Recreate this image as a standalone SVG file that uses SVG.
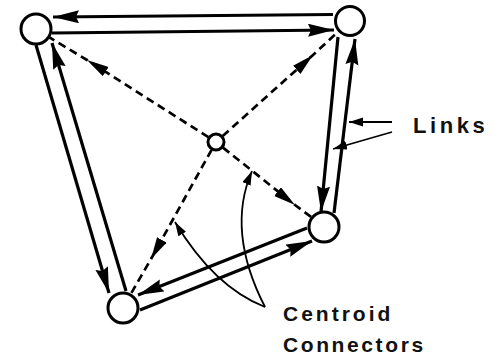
<svg xmlns="http://www.w3.org/2000/svg" width="492" height="355" viewBox="0 0 492 355">
  <style>
    .node { fill: #fff; stroke: #000; stroke-width: 3; }
    .link { fill: none; stroke: #000; stroke-width: 3.2; marker-end: url(#bigArrow); }
    .cc { fill: none; stroke: #000; stroke-width: 2.7; stroke-dasharray: 8 5; marker-mid: url(#midArrow); }
    .callout { fill: none; stroke: #000; stroke-width: 1.8; marker-end: url(#smallArrow); }
    .label { font-family: "Liberation Sans", Arial, sans-serif; font-weight: bold; font-size: 21px; fill: #111; }
  </style>
  <defs>
    <marker id="bigArrow" markerUnits="userSpaceOnUse" markerWidth="28" markerHeight="14" refX="26" refY="6.5" orient="auto">
      <path d="M0,0 L26,6.5 L0,13 L3,6.5 Z" fill="#000"/>
    </marker>
    <marker id="midArrow" markerUnits="userSpaceOnUse" markerWidth="24" markerHeight="12" refX="22" refY="5.5" orient="auto">
      <path d="M0,0 L22,5.5 L0,11 Z" fill="#000"/>
    </marker>
    <marker id="smallArrow" markerUnits="userSpaceOnUse" markerWidth="16" markerHeight="10" refX="14" refY="4.5" orient="auto">
      <path d="M0,0 L14,4.5 L0,9 Z" fill="#000"/>
    </marker>
  </defs>

  <g id="connectors">
    <!-- links -->
    <path class="link" d="M333,14.5 L53,17"/>
    <path class="link" d="M52,33 L334,30"/>
    <path class="link" d="M36,45 L109,293"/>
    <path class="link" d="M126,291 L52,43"/>
    <path class="link" d="M338,37 L321,212"/>
    <path class="link" d="M334,213 L355,39"/>
    <path class="link" d="M307,228 L138,295"/>
    <path class="link" d="M140,310 L312,241"/>
    <!-- centroid connectors -->
    <path class="cc" d="M208.4,137.2 L87,60 L49.6,37.5"/>
    <path class="cc" d="M222.7,136 L313,55 L338.9,31"/>
    <path class="cc" d="M223,147.6 L295,205 L311.4,217.1"/>
    <path class="cc" d="M211.6,149.8 L151,259 L130.8,294"/>
    <!-- callouts -->
    <path class="callout" d="M392,122 L349,122"/>
    <path class="callout" d="M392,132 L333,149"/>
    <path class="callout" d="M265,307 Q214,287 175,222"/>
    <path class="callout" d="M265,307 Q226,231 252,171"/>
  </g>

  <g id="node-tl"><circle class="node" cx="36" cy="29" r="15"/></g>
  <g id="node-tr"><circle class="node" cx="350" cy="21" r="14.5"/></g>
  <g id="node-bl"><circle class="node" cx="123" cy="308" r="15"/></g>
  <g id="node-br"><circle class="node" cx="324" cy="227" r="15"/></g>
  <g id="node-centroid"><circle class="node" cx="216" cy="142" r="8"/></g>

  <g id="labels">
    <text class="label" x="413" y="133" style="font-size:22px; letter-spacing:3.6px">Links</text>
    <text class="label" x="283" y="321" style="letter-spacing:3px">Centroid</text>
    <text class="label" x="283" y="352" style="letter-spacing:2.6px">Connectors</text>
  </g>
</svg>
